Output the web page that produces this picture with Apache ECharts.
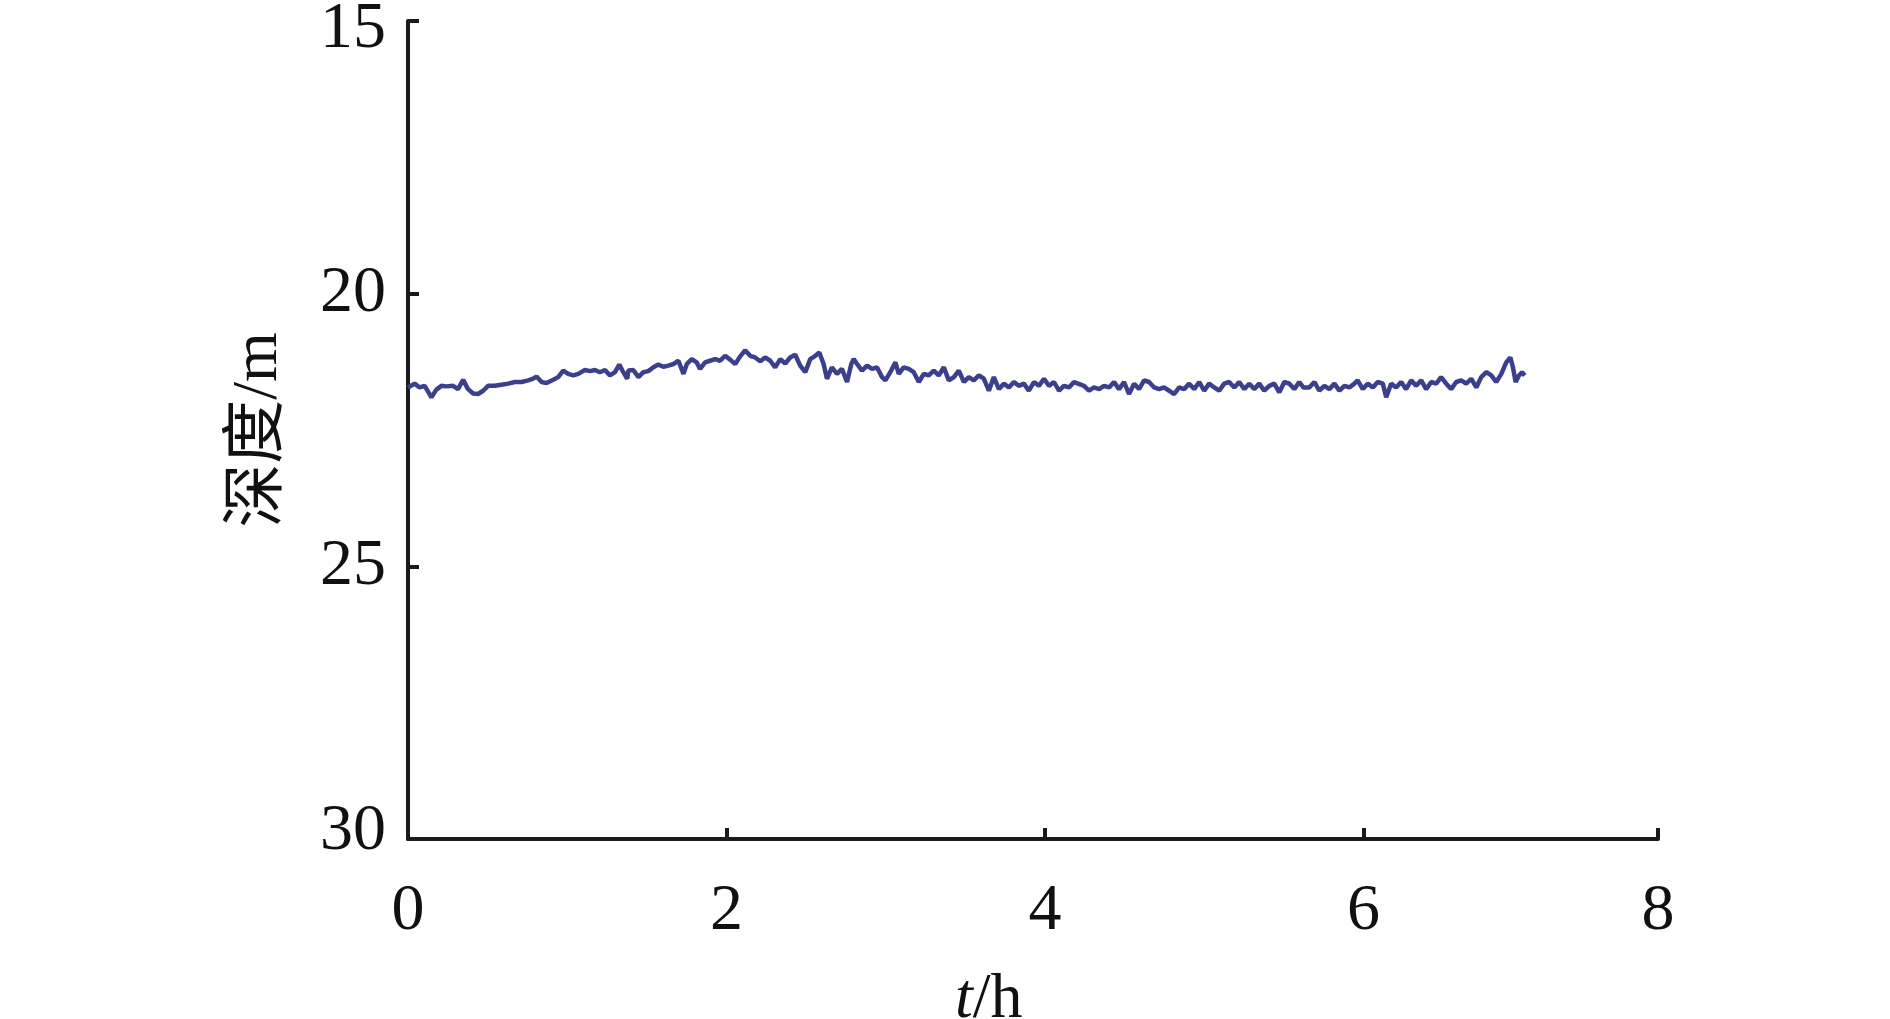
<!DOCTYPE html>
<html>
<head>
<meta charset="utf-8">
<script src="https://cdn.jsdelivr.net/npm/echarts@6/dist/echarts.min.js"></script>
<style>
html,body{margin:0;padding:0;background:#fff;}
#chart{width:1890px;height:1019px;}
</style>
</head>
<body>
<div id="chart"></div>
<script>
// time (h)
const timeH = [
0,0.042,0.073,0.105,0.147,0.178,0.210,0.241,0.283,0.314,0.346,0.377,0.409,0.440,0.472,0.503,0.545,0.587,0.629,0.671,0.713,0.755,0.786,0.807,0.839,0.870,0.912,0.943,0.975,1.006,1.038,1.069,1.111,1.143,1.174,1.205,1.237,1.268,1.300,1.327,1.352,1.377,
1.384,1.415,1.447,1.478,1.509,1.541,1.572,1.604,1.635,1.667,1.698,1.730,1.751,1.782,1.813,1.834,1.866,1.897,1.929,1.960,1.992,2.023,2.055,2.086,2.117,2.149,2.180,2.212,2.243,2.275,2.306,2.338,2.369,2.400,2.432,2.463,2.495,2.526,2.558,2.583,2.610,2.631,2.662,2.694,2.725,2.757,2.784,
2.799,2.820,2.851,2.883,2.914,2.945,2.977,2.998,3.029,3.061,3.082,3.113,3.145,3.176,3.208,3.239,3.270,3.302,3.333,3.365,3.396,3.428,3.459,3.491,3.522,3.553,3.585,3.616,3.648,3.679,3.711,3.742,3.774,3.805,3.836,3.868,3.899,3.931,3.962,3.994,4.025,4.057,4.088,4.119,4.151,4.182,4.208,
4.245,4.277,4.308,4.340,4.371,4.403,4.434,4.465,4.497,4.528,4.560,4.591,4.623,4.654,4.686,4.717,4.748,4.780,4.811,4.843,4.874,4.906,4.937,4.969,5.000,5.031,5.063,5.094,5.126,5.157,5.189,5.220,5.252,5.283,5.314,5.346,5.377,5.409,5.440,5.472,5.503,5.535,5.566,5.597,5.623,
5.660,5.692,5.723,5.755,5.786,5.818,5.849,5.881,5.912,5.943,5.964,5.996,6.027,6.059,6.090,6.122,6.143,6.174,6.205,6.237,6.268,6.300,6.331,6.363,6.394,6.426,6.457,6.488,6.520,6.551,6.583,6.614,6.646,6.677,6.709,6.740,6.772,6.803,6.834,6.866,6.897,6.923,6.939,6.956,6.977,6.996,7.013
];
// depth (m)
const depthM = [
21.72,21.65,21.72,21.69,21.90,21.76,21.69,21.70,21.69,21.75,21.58,21.75,21.83,21.84,21.78,21.69,21.69,21.67,21.65,21.62,21.62,21.59,21.56,21.52,21.62,21.64,21.58,21.53,21.41,21.47,21.50,21.47,21.40,21.42,21.40,21.44,21.40,21.50,21.44,21.30,21.44,21.56,
21.41,21.40,21.53,21.44,21.42,21.35,21.30,21.34,21.32,21.29,21.23,21.47,21.29,21.20,21.26,21.38,21.26,21.23,21.20,21.23,21.14,21.21,21.29,21.15,21.04,21.14,21.17,21.24,21.17,21.23,21.35,21.20,21.28,21.17,21.12,21.32,21.44,21.20,21.14,21.08,21.29,21.56,21.35,21.47,21.38,21.62,21.29,
21.20,21.29,21.41,21.32,21.38,21.35,21.53,21.59,21.44,21.26,21.47,21.35,21.38,21.44,21.62,21.47,21.50,21.41,21.50,21.35,21.59,21.53,21.41,21.62,21.53,21.59,21.50,21.56,21.78,21.53,21.75,21.65,21.72,21.62,21.69,21.65,21.78,21.62,21.69,21.56,21.69,21.62,21.78,21.69,21.72,21.62,21.65,
21.69,21.78,21.72,21.75,21.69,21.72,21.62,21.75,21.62,21.84,21.65,21.75,21.59,21.62,21.72,21.75,21.72,21.78,21.84,21.72,21.75,21.65,21.75,21.62,21.78,21.65,21.72,21.78,21.65,21.62,21.72,21.62,21.75,21.65,21.75,21.65,21.78,21.69,21.65,21.81,21.62,21.65,21.75,21.62,21.72,
21.72,21.62,21.78,21.69,21.75,21.65,21.78,21.69,21.72,21.65,21.59,21.75,21.65,21.72,21.62,21.65,21.90,21.65,21.72,21.62,21.75,21.59,21.69,21.59,21.75,21.62,21.65,21.53,21.65,21.75,21.62,21.59,21.65,21.56,21.72,21.53,21.44,21.50,21.62,21.47,21.26,21.17,21.35,21.62,21.50,21.44,21.50
];
const xTickLabels = ['0','2','4','6','8'];
const yTickLabels = ['15','20','25','30'];
const X_MIN = 0, X_MAX = 7.85, X_STEP = 2;
const Y_MIN = 15, Y_MAX = 30, Y_STEP = 5;

const chart = echarts.init(document.getElementById('chart'));
const FONT = '"Liberation Serif", "Times New Roman", "Noto Sans CJK SC", serif';
const AX = '#1a1a1a';
const labRich = {
  first: {fontFamily: FONT, fontSize: 66, color: '#111', padding: [18, 0, 0, 0]},
  last: {fontFamily: FONT, fontSize: 66, color: '#111', padding: [0, 0, 14, 0]}
};
chart.setOption({
  animation: false,
  backgroundColor: '#ffffff',
  grid: {left: 408, top: 21, width: 1250, height: 818, containLabel: false, outerBoundsMode: 'none'},
  xAxis: {
    type: 'value', min: X_MIN, max: X_MAX, interval: X_STEP,
    axisLine: {show: true, lineStyle: {color: AX, width: 4}},
    axisTick: {show: true, inside: true, length: 11, lineStyle: {color: AX, width: 4}},
    splitLine: {show: false},
    axisLabel: {
      color: '#111', fontFamily: FONT, fontSize: 66, margin: 40,
      showMaxLabel: true,
      formatter: function (v, i) { return xTickLabels[i] !== undefined ? xTickLabels[i] : ''; }
    }
  },
  yAxis: {
    type: 'value', min: Y_MIN, max: Y_MAX, interval: Y_STEP, inverse: true,
    name: '深度/m', nameLocation: 'middle', nameGap: 117, nameRotate: 90,
    nameTextStyle: {color: '#111', fontFamily: FONT, fontSize: 64},
    axisLine: {show: true, lineStyle: {color: AX, width: 4}},
    axisTick: {show: true, inside: true, length: 11, lineStyle: {color: AX, width: 4}},
    splitLine: {show: false},
    axisLabel: {
      color: '#111', fontFamily: FONT, fontSize: 66, margin: 22,
      rich: labRich,
      formatter: function (v, i) {
        const s = yTickLabels[i] !== undefined ? yTickLabels[i] : String(v);
        if (i === 0) return '{first|' + s + '}';
        if (i === yTickLabels.length - 1) return '{last|' + s + '}';
        return s;
      }
    }
  },
  graphic: [{
    type: 'text', left: 955, top: 968,
    style: {
      text: '{i|t}/h', fontFamily: FONT, fontSize: 64, fill: '#111',
      rich: {i: {fontStyle: 'italic', fontFamily: FONT, fontSize: 64, fill: '#111'}}
    }
  }],
  series: [{
    type: 'line',
    data: timeH.map((t, i) => [t, depthM[i]]),
    showSymbol: false,
    lineStyle: {color: '#3b3f8c', width: 4.5},
    itemStyle: {color: '#3b3f8c'}
  }]
});
</script>
</body>
</html>
